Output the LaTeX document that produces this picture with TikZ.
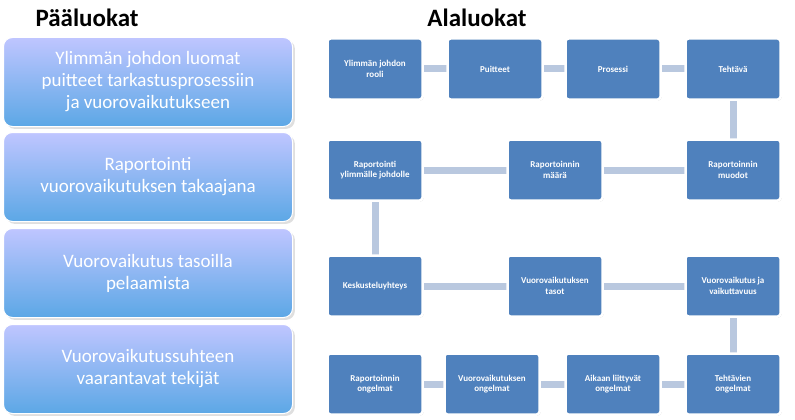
\documentclass[tikz,border=0pt]{standalone}
\usepackage{fontspec}
\setmainfont{Carlito}
\usetikzlibrary{shadows}
\definecolor{sb}{HTML}{4F81BD}
\definecolor{ln}{HTML}{B9C8DF}
\tikzset{
 main/.style={rounded corners=9pt, top color=cyan!10!blue!25!white, bottom color=blue!45!cyan!60!white!90!black, draw=white, line width=1pt, minimum width=289pt, minimum height=89pt, text=white, align=center, font=\fontsize{19}{22}\selectfont, drop shadow={opacity=0.25}},
 sub/.style={rounded corners=3pt, fill=sb, draw=white, line width=2.5pt, minimum width=95pt, minimum height=61pt, text=white, align=center, font=\bfseries\fontsize{9}{10.5}\selectfont, drop shadow={opacity=0.3,shadow xshift=1pt,shadow yshift=-1pt}},
 con/.style={ln, line width=7pt},
 ttl/.style={font=\bfseries\fontsize{25}{28}\selectfont}
}
\begin{document}
\begin{tikzpicture}[x=1pt,y=-1pt]
\useasboundingbox (0,0) rectangle (795,420);
\node[ttl] (t1) at (87,18) {Pääluokat};
\node[ttl] (t2) at (477,18) {Alaluokat};
\node[main] (m1) at (148,82) {Ylimmän johdon luomat\\puitteet tarkastusprosessiin\\ja vuorovaikutukseen};
\node[main] (m2) at (148,177) {Raportointi\\vuorovaikutuksen takaajana};
\node[main] (m3) at (148,273) {Vuorovaikutus tasoilla\\pelaamista};
\node[main] (m4) at (148,369) {Vuorovaikutussuhteen\\vaarantavat tekijät};
% connectors first
\coordinate (a1) at (375,69); \coordinate (a2) at (495,69); \coordinate (a3) at (613,69); \coordinate (a4) at (733,69);
\coordinate (b1) at (375,170); \coordinate (b2) at (555,170); \coordinate (b3) at (733,170);
\coordinate (c1) at (375,286); \coordinate (c2) at (555,286); \coordinate (c3) at (733,286);
\coordinate (d1) at (375,384); \coordinate (d2) at (492,384); \coordinate (d3) at (613,384); \coordinate (d4) at (733,384);
\draw[con] (a1)--(a2)--(a3)--(a4)--(b3)--(b2)--(b1)--(c1)--(c2)--(c3)--(d4)--(d3)--(d2)--(d1);
\node[sub] (n1) at (a1) {Ylimmän johdon\\rooli};
\node[sub] (n2) at (a2) {Puitteet};
\node[sub] (n3) at (a3) {Prosessi};
\node[sub] (n4) at (a4) {Tehtävä};
\node[sub] (n5) at (b1) {Raportointi\\ylimmälle johdolle};
\node[sub] (n6) at (b2) {Raportoinnin\\määrä};
\node[sub] (n7) at (b3) {Raportoinnin\\muodot};
\node[sub] (n8) at (c1) {Keskusteluyhteys};
\node[sub] (n9) at (c2) {Vuorovaikutuksen\\tasot};
\node[sub] (n10) at (c3) {Vuorovaikutus ja\\vaikuttavuus};
\node[sub] (n11) at (d1) {Raportoinnin\\ongelmat};
\node[sub] (n12) at (d2) {Vuorovaikutuksen\\ongelmat};
\node[sub] (n13) at (d3) {Aikaan liittyvät\\ongelmat};
\node[sub] (n14) at (d4) {Tehtävien\\ongelmat};
\end{tikzpicture}
\end{document}
